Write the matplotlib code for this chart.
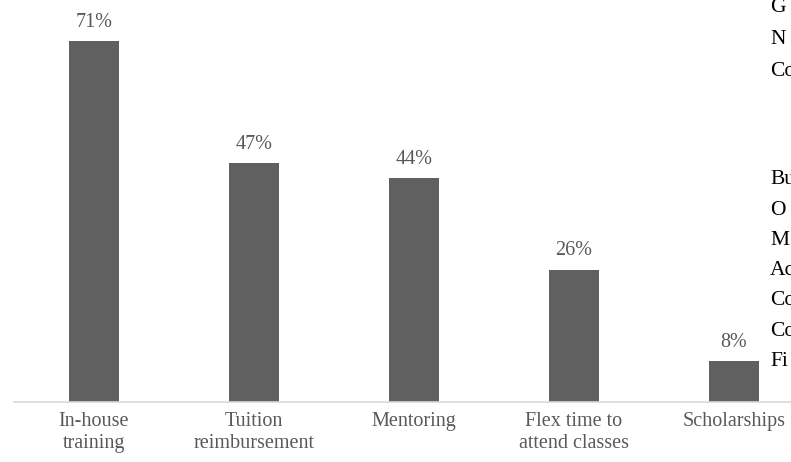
import matplotlib.pyplot as plt

categories = ['In-house\ntraining', 'Tuition\nreimbursement', 'Mentoring',
              'Flex time to\nattend classes', 'Scholarships']
values = [71, 47, 44, 26, 8]

# text of the page behind the chart, cut at the right edge
side_text_top = ['G', 'N', 'Co']
side_text_low = ['Bu', 'O', 'M', 'Ac', 'Co', 'Co', 'Fi']

plt.rcParams['font.family'] = ['Liberation Serif', 'DejaVu Serif']

fig = plt.figure(figsize=(7.91, 4.62), dpi=100)
W, H = 791, 462
ax = fig.add_axes([14 / W, 60 / H, 800 / W, 402 / H])

x = range(len(categories))
bars = ax.bar(x, values, width=50 / 160, color='#606060')
ax.set_xlim(-0.5, 4.5)
ax.set_ylim(0, 402 / 5.08)

for b, v in zip(bars, values):
    ax.annotate(f'{v}%', (b.get_x() + b.get_width() / 2, v),
                xytext=(0, 7), textcoords='offset points',
                ha='center', va='bottom', fontsize=14.5, color='#595959')

ax.set_xticks(list(x))
ax.set_xticklabels(categories, fontsize=14.5, color='#595959', linespacing=1.2)
ax.tick_params(axis='x', length=0, pad=7)
ax.set_yticks([])
for s in ['top', 'left', 'right']:
    ax.spines[s].set_visible(False)
ax.spines['bottom'].set_color('#d9d9d9')
ax.spines['bottom'].set_linewidth(1.2)

for i, t in enumerate(side_text_top):
    fig.text(770 / W, 1 - (8 + 32 * i) / H, t, fontsize=15.5, color='black',
             va='center', ha='left')
for i, t in enumerate(side_text_low):
    fig.text(770 / W, 1 - (180 + 30.2 * i) / H, t, fontsize=15.5, color='black',
             va='center', ha='left')

fig.savefig('out.png', dpi=100)
